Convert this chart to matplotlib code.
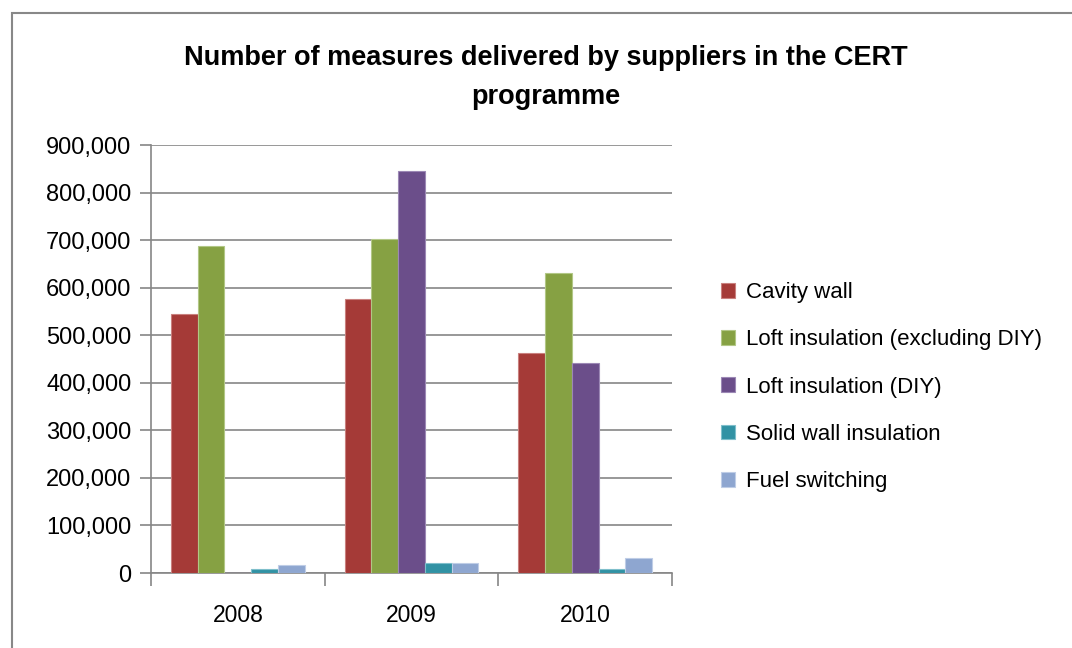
import matplotlib.pyplot as plt
import numpy as np
from matplotlib.patches import Rectangle

years = ["2008", "2009", "2010"]
series_names = ["Cavity wall", "Loft insulation (excluding DIY)", "Loft insulation (DIY)",
                "Solid wall insulation", "Fuel switching"]
cavity_wall = [545000, 577000, 462000]
loft_excl_diy = [688000, 702000, 630000]
loft_diy = [0, 846000, 441000]
solid_wall = [8000, 22000, 8000]
fuel_switching = [16000, 22000, 32000]
yticks = [0, 100000, 200000, 300000, 400000, 500000, 600000, 700000, 800000, 900000]

colors = ["#A53A37", "#86A143", "#6B4E8A", "#3192A4", "#8EA6D0"]
edges = ["#C9807E", "#B2C786", "#9C88B5", "#7FBFCB", "#BFCDE6"]

W, H = 1072, 648
fig = plt.figure(figsize=(W / 100, H / 100), dpi=100)
plt.rcParams["font.family"] = ["Liberation Sans", "DejaVu Sans"]

# chart border (runs off the right and bottom edges)
fig.patches.append(Rectangle((12 / W, -0.1), 1.0, 1.1 - 13 / H, transform=fig.transFigure,
                             fill=False, edgecolor="#888888", linewidth=1.5))

ax = fig.add_axes([151 / W, 1 - 573 / H, (672 - 151) / W, (573 - 145) / H])

data = [cavity_wall, loft_excl_diy, loft_diy, solid_wall, fuel_switching]
x = np.arange(len(years))
bw = 1 / (5 + 1.5)
for i, vals in enumerate(data):
    ax.bar(x - 2.5 * bw + (i + 0.5) * bw, vals, width=bw, color=colors[i],
           edgecolor=edges[i], linewidth=0.8, label=series_names[i], zorder=3)

ax.set_xlim(-0.5, 2.5)
ax.set_ylim(0, 900000)
ax.set_yticks(yticks)
ax.set_yticklabels([f"{v:,}" for v in yticks], fontsize=17)
ax.set_xticks(x)
ax.set_xticklabels(years, fontsize=16.5)
ax.set_xticks([-0.5, 0.5, 1.5, 2.5], minor=True)
ax.tick_params(axis="x", which="major", length=0, pad=22)
ax.tick_params(axis="x", which="minor", length=9, color="#868686", width=1.2)
ax.tick_params(axis="y", length=8, color="#868686", width=1.2, pad=6)
ax.yaxis.grid(True, color="#868686", linewidth=1.2, zorder=0)
ax.set_axisbelow(True)
for s in ["top", "right"]:
    ax.spines[s].set_visible(False)
for s in ["left", "bottom"]:
    ax.spines[s].set_color("#868686")
    ax.spines[s].set_linewidth(1.2)

fig.text(546 / W, 1 - 58 / H, "Number of measures delivered by suppliers in the CERT",
         ha="center", va="center", fontsize=19.5, fontweight="bold")
fig.text(546 / W, 1 - 97 / H, "programme", ha="center", va="center",
         fontsize=19.5, fontweight="bold")

fig.legend(loc="center left", bbox_to_anchor=(712 / W, 1 - 387 / H), frameon=False,
           fontsize=16, handlelength=0.65, handleheight=0.65, handletextpad=0.5,
           labelspacing=1.18, borderaxespad=0)

fig.savefig("out.png", dpi=100)
